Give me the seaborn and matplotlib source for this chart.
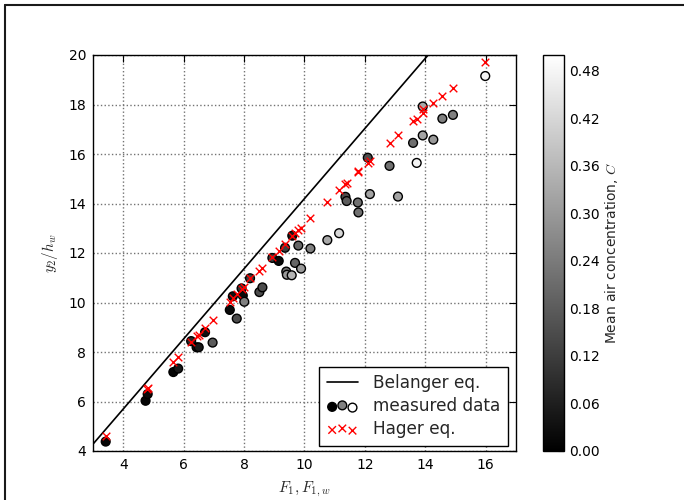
import numpy as np
import pandas as pd
import matplotlib
matplotlib.use("Agg")
import matplotlib.pyplot as plt
import seaborn as sns
from matplotlib.lines import Line2D
from matplotlib.cm import ScalarMappable
from matplotlib.colors import Normalize

# Measured hydraulic-jump data: Froude number, sequent depth ratio, mean air concentration
froude_meas = [3.42, 4.74, 4.81, 5.66, 5.82, 6.25, 6.43, 6.50, 6.71, 6.96,
               7.53, 7.63, 7.76, 7.92, 7.96, 8.01, 8.20, 8.51, 8.61, 8.94,
               9.15, 9.36, 9.40, 9.42, 9.58, 9.60, 9.69, 9.80, 9.89, 10.20,
               10.76, 11.15, 11.36, 11.40, 11.77, 11.79, 12.10, 12.17, 12.82, 13.10,
               13.60, 13.72, 13.92, 13.92, 14.27, 14.57, 14.92, 15.99]
depth_ratio_meas = [4.38, 6.03, 6.30, 7.19, 7.33, 8.44, 8.19, 8.19, 8.80, 8.38,
                    9.70, 10.25, 9.35, 10.57, 10.28, 10.03, 10.98, 10.42, 10.61, 11.80,
                    11.68, 12.21, 11.25, 11.12, 11.10, 12.70, 11.60, 12.30, 11.37, 12.18,
                    12.52, 12.80, 14.27, 14.10, 14.04, 13.64, 15.85, 14.38, 15.52, 14.28,
                    16.45, 15.64, 16.75, 17.92, 16.58, 17.43, 17.58, 19.15]
air_conc = [0.01, 0.01, 0.02, 0.01, 0.05, 0.08, 0.03, 0.05, 0.03, 0.18,
            0.02, 0.03, 0.15, 0.10, 0.02, 0.25, 0.12, 0.15, 0.15, 0.12,
            0.02, 0.12, 0.22, 0.30, 0.35, 0.05, 0.20, 0.20, 0.30, 0.25,
            0.33, 0.42, 0.15, 0.18, 0.22, 0.22, 0.15, 0.32, 0.22, 0.32,
            0.22, 0.48, 0.32, 0.33, 0.30, 0.25, 0.25, 0.48]

# Hager equation predictions
froude_hager = [3.42, 4.78, 4.83, 5.66, 5.82, 6.25, 6.43, 6.50, 6.71, 6.96,
                7.53, 7.63, 7.76, 7.92, 8.01, 8.20, 8.51, 8.61, 8.94, 9.15,
                9.36, 9.60, 9.69, 9.80, 9.89, 10.20, 10.76, 11.15, 11.36, 11.40,
                11.77, 11.79, 12.10, 12.17, 12.82, 13.10, 13.60, 13.72, 13.92, 13.92,
                14.27, 14.57, 14.92, 15.99]
depth_ratio_hager = [4.62, 6.49, 6.56, 7.61, 7.81, 8.42, 8.65, 8.69, 8.96, 9.29,
                     10.03, 10.20, 10.34, 10.53, 10.64, 10.98, 11.27, 11.41, 11.83, 12.09,
                     12.36, 12.69, 12.82, 12.93, 13.02, 13.40, 14.07, 14.55, 14.79, 14.82,
                     15.26, 15.33, 15.65, 15.73, 16.44, 16.77, 17.33, 17.41, 17.67, 17.80,
                     18.06, 18.36, 18.68, 19.73]

# Belanger equation line
froude_belanger = [3.0, 14.1]
depth_ratio_belanger = [4.28, 20.0]

x_ticks = [4, 6, 8, 10, 12, 14, 16]
y_ticks = [4, 6, 8, 10, 12, 14, 16, 18, 20]
cbar_ticks = [0.00, 0.06, 0.12, 0.18, 0.24, 0.30, 0.36, 0.42, 0.48]

meas = pd.DataFrame({"F": froude_meas, "y": depth_ratio_meas, "C": air_conc})
hager = pd.DataFrame({"F": froude_hager, "y": depth_ratio_hager})
belanger = pd.DataFrame({"F": froude_belanger, "y": depth_ratio_belanger})

sns.set_theme(style="white")
plt.rcParams["font.family"] = ["DejaVu Sans"]
plt.rcParams["mathtext.fontset"] = "cm"

fig = plt.figure(figsize=(6.84, 5.0), dpi=100)
ax = fig.add_axes([0.136, 0.098, 0.618, 0.792])
cax = fig.add_axes([0.794, 0.098, 0.030, 0.792])

norm = Normalize(vmin=0.0, vmax=0.5)

sns.lineplot(data=belanger, x="F", y="y", ax=ax, color="black", linewidth=1.2,
             zorder=2, legend=False)
sns.scatterplot(data=meas, x="F", y="y", hue="C", palette="gray", hue_norm=(0.0, 0.5),
                ax=ax, s=40, edgecolor="black", linewidth=1.0, legend=False, zorder=3)
sns.scatterplot(data=hager, x="F", y="y", ax=ax, marker="x", color="red", s=30,
                linewidth=1.0, legend=False, zorder=4)

ax.grid(True, color="0.45", linestyle=":", linewidth=1.0)
ax.tick_params(direction="in", top=True, right=True, length=5, width=0.8,
               labelsize=10, colors="black", pad=5)
for sp in ax.spines.values():
    sp.set_color("black")
    sp.set_linewidth(1.0)
ax.set_xlabel(r"$F_1, F_{1,w}$", fontsize=11, labelpad=6)
ax.set_ylabel(r"$y_2/h_w$", fontsize=11, labelpad=6)

# Legend proxies
line_handle = ax.plot([np.nan], [np.nan], color="black", linewidth=1.2)[0]
meas_handle = ax.scatter([np.nan] * 3, [np.nan] * 3,
                         c=[(0, 0, 0, 1), (0.5, 0.5, 0.5, 1), (1, 1, 1, 1)],
                         s=40, edgecolors="black", linewidths=1.0)
hager_handle = ax.scatter([np.nan] * 3, [np.nan] * 3, marker="x", c="red",
                          s=30, linewidths=1.0)
ax.set_xlim(3, 17)
ax.set_ylim(4, 20)
ax.set_xticks(x_ticks)
ax.set_yticks(y_ticks)
leg = ax.legend([line_handle, meas_handle, hager_handle],
                ["Belanger eq.", "measured data", "Hager eq."],
                loc="lower right", scatterpoints=3,
                scatteryoffsets=[0.375, 0.5, 0.3125],
                fontsize=12.2, frameon=True, fancybox=False, framealpha=1.0,
                edgecolor="black", borderpad=0.45, handlelength=1.8,
                handletextpad=0.9, labelspacing=0.3, borderaxespad=0.0,
                bbox_to_anchor=(0.981, 0.0126))
leg.get_frame().set_linewidth(1.0)

sm = ScalarMappable(norm=norm, cmap="gray")
cb = fig.colorbar(sm, cax=cax, ticks=cbar_ticks, format="%.2f")
cb.outline.set_edgecolor("black")
cb.outline.set_linewidth(1.0)
cax.tick_params(direction="in", length=4, width=0.8, labelsize=10, colors="black",
                color="0.4", pad=4)
cb.set_label("Mean air concentration, $C$", fontsize=10, labelpad=2)

# Figure frame along the top and left edges
fig.add_artist(Line2D([5 / 684, 5 / 684], [0.0, 1 - 5 / 500], transform=fig.transFigure,
                      color="0.1", linewidth=1.5))
fig.add_artist(Line2D([5 / 684, 1.0], [1 - 5 / 500, 1 - 5 / 500], transform=fig.transFigure,
                      color="0.1", linewidth=1.5))

fig.savefig("out.png", dpi=100)
